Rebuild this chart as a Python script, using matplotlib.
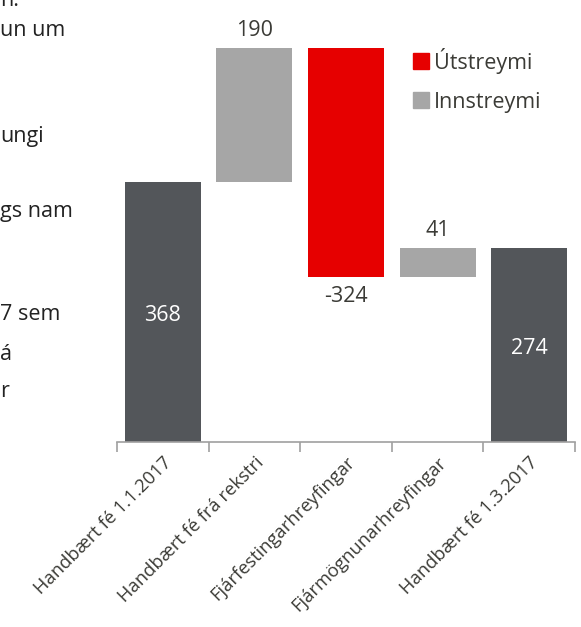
import matplotlib
matplotlib.use("Agg")
import matplotlib.pyplot as plt
from matplotlib.lines import Line2D
import numpy as np

categories = ["Handbært fé 1.1.2017", "Handbært fé frá rekstri",
              "Fjárfestingarhreyfingar", "Fjármögnunarhreyfingar",
              "Handbært fé 1.3.2017"]
values = [368, 190, -324, 41, 274]
is_total = [True, False, False, False, True]
legend_labels = ["Útstreymi", "Innstreymi"]
side_text = [("n.", 0.0), ("un um", 0.048), ("ungi", 0.218), ("gs nam", 0.338),
             ("7 sem", 0.502), ("á", 0.566), ("r", 0.625)]

DARK = "#53565A"
LIGHT = "#A6A6A6"
RED = "#E60000"
TXT = "#3B3B36"

plt.rcParams['font.family'] = ['Open Sans', 'DejaVu Sans']

W, H = 581, 627
fig = plt.figure(figsize=(W / 100, H / 100), dpi=100)
ax = fig.add_axes([117 / W, (H - 442) / H, (575 - 117) / W, 442 / H])

bottoms, heights, colors = [], [], []
running = 0
for v, tot in zip(values, is_total):
    if tot:
        bottoms.append(0)
        heights.append(v)
        colors.append(DARK)
        running = v
    else:
        if v >= 0:
            bottoms.append(running)
            heights.append(v)
            colors.append(LIGHT)
        else:
            bottoms.append(running + v)
            heights.append(-v)
            colors.append(RED)
        running += v

x = np.arange(len(categories))
ax.bar(x, heights, bottom=bottoms, width=0.83, color=colors, zorder=2)

for xi, v, b, h, tot in zip(x, values, bottoms, heights, is_total):
    if tot:
        ax.text(xi, b + h * 0.485, str(v),
                ha='center', va='center', color='white', fontsize=15.5)
    elif v >= 0:
        ax.text(xi, b + h + 10, str(v), ha='center', va='bottom', color=TXT, fontsize=15.5)
    else:
        ax.text(xi, b - 13, str(v), ha='center', va='top', color=TXT, fontsize=15.5)

ax.set_xlim(-0.5, len(categories) - 0.5)
ax.set_ylim(0, 442 / 0.7065)
for s in ['top', 'right', 'left']:
    ax.spines[s].set_visible(False)
ax.spines['bottom'].set_color('#A0A0A0')
ax.spines['bottom'].set_linewidth(1.2)
ax.set_yticks([])
ax.set_xticks(x)
ax.set_xticklabels(categories, rotation=45, ha='right', rotation_mode='anchor',
                   fontsize=13.2, color=TXT)
ax.tick_params(axis='x', which='major', length=0, pad=8)
ax.set_xticks(np.arange(-0.5, len(categories)), minor=True)
ax.tick_params(axis='x', which='minor', length=7, width=1.2, color='#A0A0A0', direction='out')

handles = [Line2D([], [], marker='s', linestyle='none', markersize=11, color=RED),
           Line2D([], [], marker='s', linestyle='none', markersize=11, color=LIGHT)]
fig.legend(handles, legend_labels, loc='upper left', bbox_to_anchor=(404 / W, 1 - 39 / H),
           frameon=False, fontsize=15.5, handlelength=0.8, handletextpad=0.2,
           labelspacing=0.85, labelcolor=TXT, borderaxespad=0)

for t, yy in side_text:
    fig.text(0.0, 1 - yy, t, ha='left', va='center', fontsize=15.5, color='#222222')

fig.savefig("out.png", dpi=100)
